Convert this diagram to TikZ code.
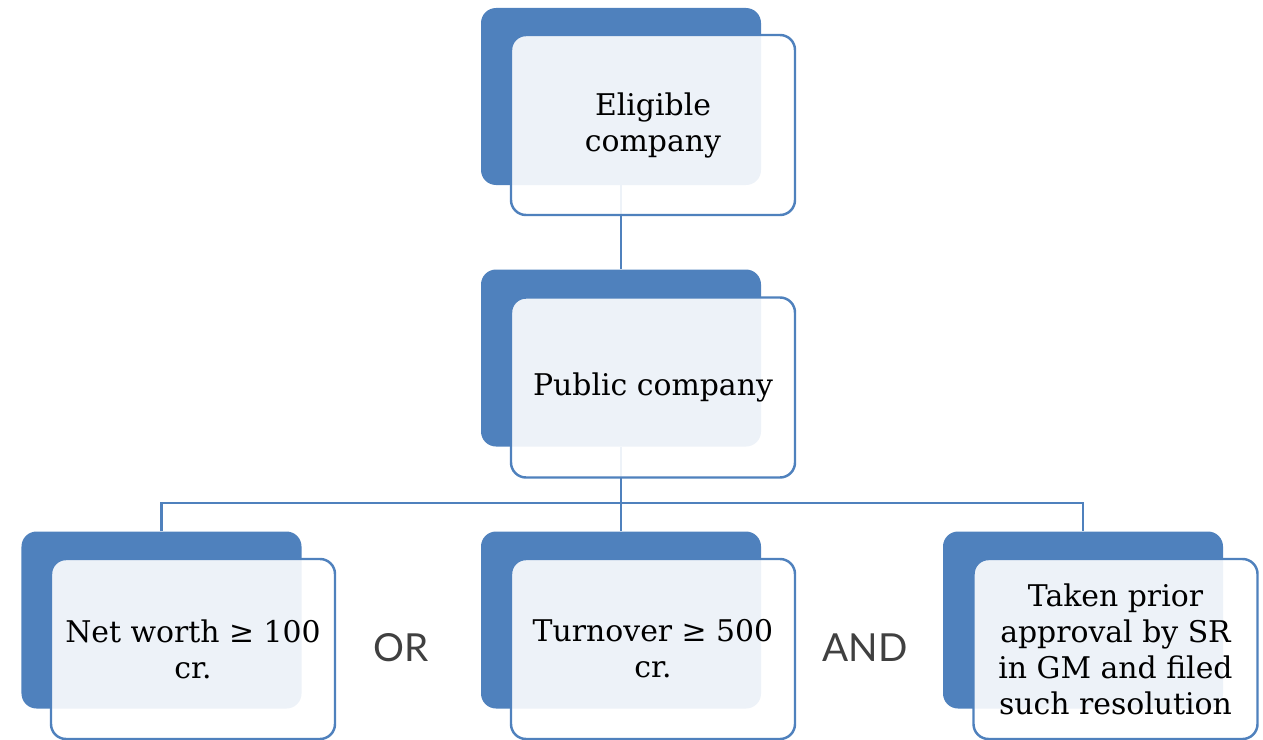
\documentclass[tikz,border=0pt]{standalone}
\usepackage{fontspec}
\usepackage{xcolor}
\usepackage{tikz}
\setmainfont{DejaVu Serif}
\newfontfamily\joinfont{Lato}
\definecolor{boxblue}{HTML}{4F81BD}
\definecolor{joingray}{HTML}{404040}
\usetikzlibrary{positioning,calc}
\tikzset{
	backbox/.style = {
			rectangle,
			rounded corners = 0.3cm,
			fill            = boxblue,
			minimum width   = 5.6cm,
			minimum height  = 3.54cm,
		},
	frontbox/.style = {
			rectangle,
			rounded corners = 0.3cm,
			draw            = boxblue,
			line width      = 1.4pt,
			fill            = white,
			fill opacity    = 0.9,
			text opacity    = 1,
			minimum width   = 5.68cm,
			minimum height  = 3.6cm,
			align           = center,
			font            = \fontsize{17}{20.5}\selectfont,
		},
	joinword/.style = {
			text = joingray,
			font = \joinfont\fontsize{22}{24}\selectfont,
		},
	link/.style = {draw=boxblue, line width=1.5pt},
}

\begin{document}
\begin{tikzpicture}
			\useasboundingbox (0,0) rectangle (25.26,-14.78);
			% Back panels
			\node[backbox] (Eligible back) at (12.42,-1.93) {};
			\node[backbox] (Public back) at (12.42,-7.16) {};
			\node[backbox] (Net worth back) at (3.23,-12.4) {};
			\node[backbox] (Turnover back) at (12.42,-12.4) {};
			\node[backbox] (Approval back) at (21.66,-12.4) {};

			\coordinate (Fork) at (12.42,-10.06);

			% Tree lines
			\draw[link] (Eligible back) to (Public back);
			\draw[link] (Public back) to (Fork);
			\draw[link] (Net worth back.north) |- (Fork);
			\draw[link] (Fork) to (Turnover back.north);
			\draw[link] (Fork) -| (Approval back.north);

			% Front panels with the text
			\node[frontbox] (Eligible) at (13.06,-2.5) {Eligible\\company};
			\node[frontbox] (Public) at (13.06,-7.75) {Public company};
			\node[frontbox] (Net worth) at (3.86,-12.98) {Net worth ≥ 100\\cr.};
			\node[frontbox] (Turnover) at (13.06,-12.98) {Turnover ≥ 500\\cr.};
			\node[frontbox] (Approval) at (22.31,-12.98)
			{Taken prior\\approval by SR\\in GM and filed\\such resolution};

			\node[joinword] (Or) at (8.02,-12.96) {OR};
			\node[joinword] (And) at (17.3,-12.96) {AND};
		\end{tikzpicture}
\end{document}
